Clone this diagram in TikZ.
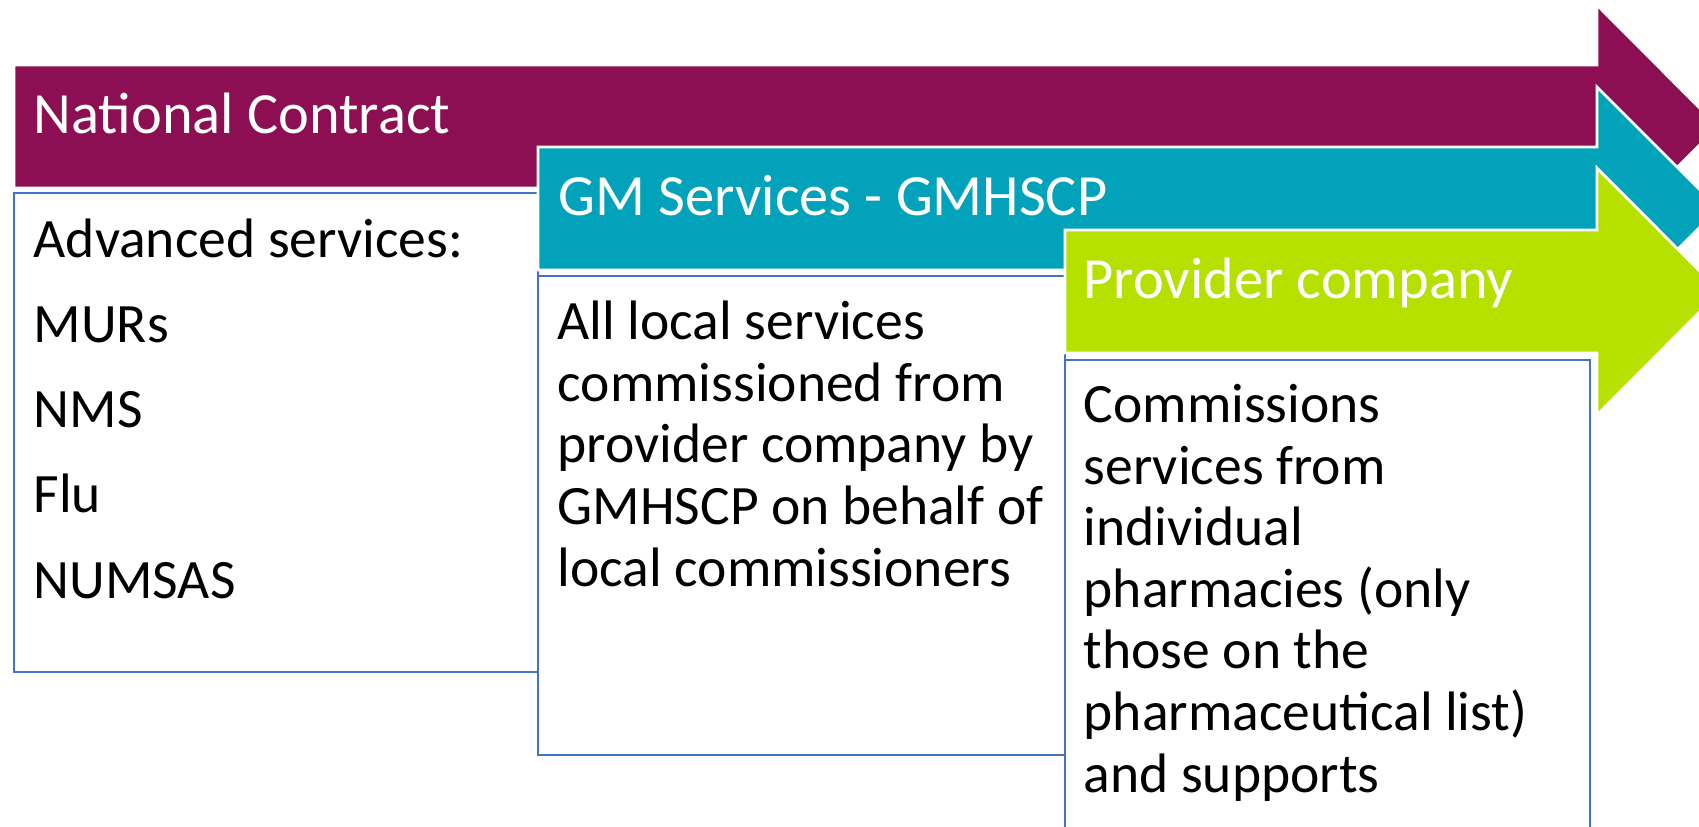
\documentclass[tikz,border=0pt]{standalone}
\usepackage{fontspec}
\setmainfont{Carlito}

\definecolor{contractpurple}{RGB}{139,15,82}
\definecolor{gmteal}{RGB}{2,163,186}
\definecolor{providergreen}{RGB}{181,224,0}
\definecolor{boxblue}{RGB}{68,114,196}

\begin{document}
\begin{tikzpicture}[x=0.01cm, y=-0.01cm,
  banner/.style={draw=white, line width=0.8pt},
  listbox/.style={draw=boxblue, fill=white, line width=0.7pt},
  headtext/.style={anchor=base west, inner sep=0pt, text=white, font=\fontsize{16.6}{19}\selectfont},
  bodytext/.style={anchor=base west, inner sep=0pt, align=left, font=\fontsize{15.8}{17.5}\selectfont}]
  \useasboundingbox (0,0) rectangle (1699,827);
  \clip (0,0) rectangle (1699,827);

  % national contract
  \draw[banner, fill=contractpurple] (14,65) -- (1597,65) -- (1597,5) -- (1718,126.5)
    -- (1597,248) -- (1597,188) -- (14,188) -- cycle;
  \node[headtext] (national) at (33,133) {National Contract};
  \draw[listbox] (14,193) rectangle (538,672);
  % base anchor sits on the last line
  \node[bodytext, font=\fontsize{15.8}{24.2}\selectfont] (advanced) at (33,598)
    {Advanced services:\\MURs\\NMS\\Flu\\NUMSAS};

  % GM services
  \draw[banner, fill=gmteal] (538,147) -- (1597,147) -- (1597,87) -- (1718.5,208.5)
    -- (1597,330) -- (1597,270) -- (538,270) -- cycle;
  \node[headtext] (gmservices) at (558,215) {GM Services - GMHSCP};
  \draw[listbox] (538,276) rectangle (1065,755);
  \node[bodytext] (localservices) at (557,586)
    {All local services\\commissioned from\\provider company by\\GMHSCP on behalf of\\local commissioners};

  % provider company
  \draw[banner, fill=providergreen] (1065,230) -- (1597,230) -- (1597,168) -- (1720,291.5)
    -- (1597,415) -- (1597,353) -- (1065,353) -- cycle;
  \node[headtext] (provider) at (1083,298) {Provider company};
  \draw[listbox] (1065,360) rectangle (1590,870);
  \node[bodytext] (commissions) at (1083,792)
    {Commissions\\services from\\individual\\pharmacies (only\\those on the\\pharmaceutical list)\\and supports};
\end{tikzpicture}
\end{document}
